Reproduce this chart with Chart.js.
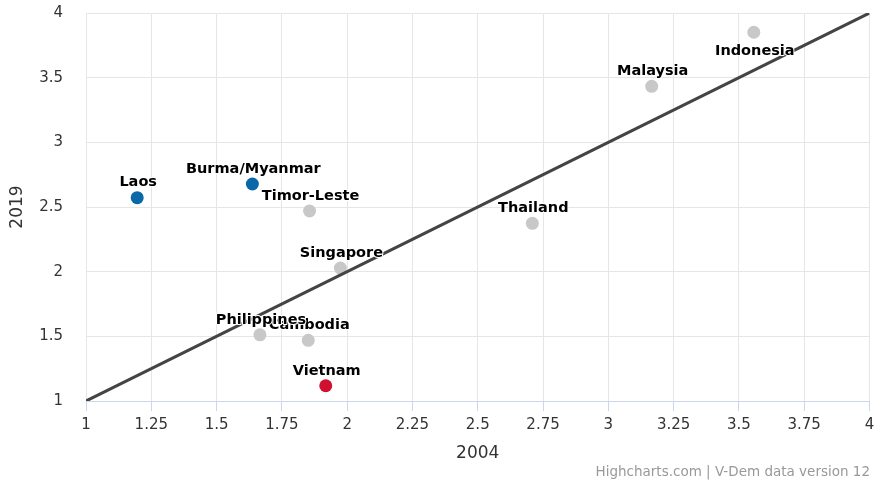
<!DOCTYPE html>
<html>
<head>
<meta charset="utf-8">
<script src="https://cdn.jsdelivr.net/npm/chart.js@4/dist/chart.umd.min.js"></script>
<style>
  html, body { margin: 0; padding: 0; background: #fff; }
  #wrap { width: 876px; height: 483px; position: relative; }
</style>
</head>
<body>
<div id="wrap"><canvas id="grafica"></canvas></div>
<script>
// Datos: índice 2004 (x) contra 2019 (y)
const paises = ['Laos', 'Burma/Myanmar', 'Timor-Leste', 'Singapore', 'Cambodia', 'Philippines', 'Vietnam', 'Thailand', 'Malaysia', 'Indonesia'];
const valores2004 = [1.196, 1.637, 1.856, 1.974, 1.851, 1.666, 1.918, 2.709, 3.166, 3.557];
const valores2019 = [2.572, 2.678, 2.469, 2.028, 1.469, 1.512, 1.118, 2.374, 3.433, 3.851];
const grupos = ['azul', 'azul', 'gris', 'gris', 'gris', 'gris', 'rojo', 'gris', 'gris', 'gris'];
const etiquetaAbajo = ['Indonesia'];
const lineaX = [1, 4];
const lineaY = [1, 4];

const colores = { azul: '#0a68a8', rojo: '#d10f2f', gris: '#c8c8c8' };
const fuente = '"DejaVu Sans", sans-serif';

const puntos = paises.map((p, i) => ({ x: valores2004[i], y: valores2019[i], nombre: p }));
const linea = lineaX.map((x, i) => ({ x: x, y: lineaY[i] }));

const formato = (v) => String(Number(v.toFixed(2)));

// Etiquetas de países con contorno blanco
const pluginEtiquetas = {
    id: 'etiquetas',
    afterDatasetsDraw(chart) {
        const ctx = chart.ctx;
        const meta = chart.getDatasetMeta(1);
        ctx.save();
        ctx.font = 'bold 14.5px ' + fuente;
        ctx.textAlign = 'center';
        ctx.textBaseline = 'middle';
        ctx.lineJoin = 'round';
        meta.data.forEach((el, i) => {
            const abajo = etiquetaAbajo.includes(paises[i]);
            const y = abajo ? el.y + 19 : el.y - 15;
            ctx.strokeStyle = '#fff';
            ctx.lineWidth = 2;
            ctx.strokeText(paises[i], el.x + 1, y);
            ctx.fillStyle = '#000';
            ctx.fillText(paises[i], el.x + 1, y);
        });
        ctx.restore();
    },
    afterDraw(chart) {
        const ctx = chart.ctx;
        ctx.save();
        ctx.font = '13.5px ' + fuente;
        ctx.fillStyle = '#999';
        ctx.textAlign = 'right';
        ctx.textBaseline = 'middle';
        ctx.fillText('Highcharts.com | V-Dem data version 12', 870, 472);
        ctx.restore();
    }
};

new Chart(document.getElementById('grafica'), {
    type: 'scatter',
    data: {
        datasets: [
            {
                type: 'line',
                data: linea,
                borderColor: '#444',
                borderWidth: 3,
                pointRadius: 0,
                fill: false
            },
            {
                data: puntos,
                backgroundColor: grupos.map(g => colores[g]),
                borderWidth: 0,
                pointRadius: 6.5,
                pointHoverRadius: 6.5
            }
        ]
    },
    options: {
        responsive: true,
        maintainAspectRatio: false,
        animation: false,
        layout: { padding: { top: 13, right: 5, bottom: 19, left: 0 } },
        plugins: {
            legend: { display: false },
            tooltip: { enabled: false }
        },
        scales: {
            x: {
                type: 'linear',
                min: 1,
                max: 4,
                afterFit: (s) => { s.height = 63; s.paddingLeft = 0; s.paddingRight = 0; },
                ticks: {
                    stepSize: 0.25,
                    padding: 5,
                    color: '#333',
                    font: { family: fuente, size: 15 },
                    maxRotation: 0,
                    callback: formato
                },
                grid: { color: '#e6e6e6', tickColor: '#ccd6eb', tickLength: 10 },
                border: { color: '#ccd6eb', width: 1 },
                title: {
                    display: true,
                    text: '2004',
                    color: '#333',
                    font: { family: fuente, size: 17 },
                    padding: { top: 0, bottom: 0 }
                }
            },
            y: {
                type: 'linear',
                min: 1,
                max: 4,
                afterFit: (s) => { s.width = 86; s.paddingTop = 0; s.paddingBottom = 0; },
                ticks: {
                    stepSize: 0.5,
                    padding: 23,
                    color: '#333',
                    font: { family: fuente, size: 15 },
                    callback: formato
                },
                grid: { color: '#e6e6e6', drawTicks: false },
                border: { display: false },
                title: {
                    display: true,
                    text: '2019',
                    color: '#333',
                    font: { family: fuente, size: 17 },
                    padding: { top: 7, bottom: 0 }
                }
            }
        }
    },
    plugins: [pluginEtiquetas]
});
</script>
</body>
</html>
